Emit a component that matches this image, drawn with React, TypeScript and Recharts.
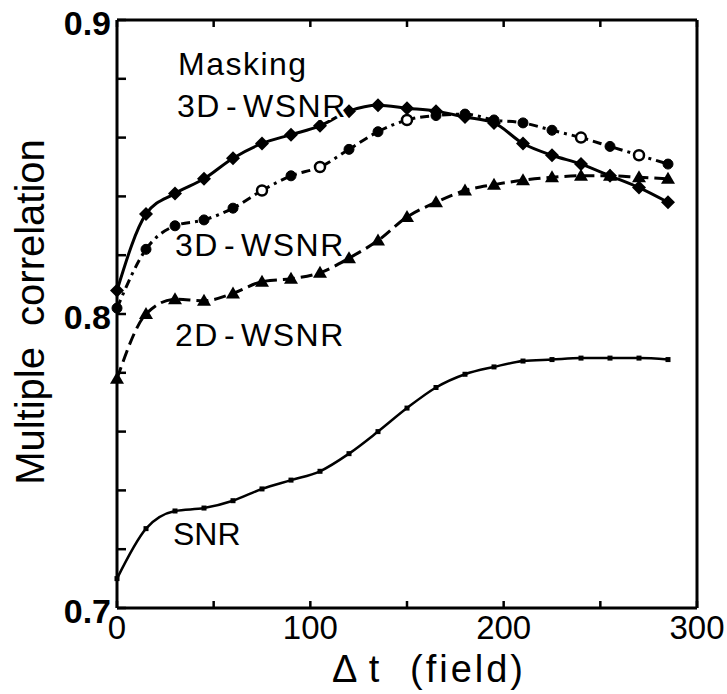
import React from "react";
import { LineChart, Line, XAxis, YAxis } from "recharts";

// x positions (field) and the four curves
const xVals = [0, 15, 30, 45, 60, 75, 90, 105, 120, 135, 150, 165, 180, 195, 210, 225, 240, 255, 270, 285];
const maskingVals = [0.808, 0.834, 0.841, 0.846, 0.853, 0.858, 0.861, 0.864, 0.869, 0.871, 0.870, 0.869, 0.867, 0.865, 0.858, 0.854, 0.851, 0.847, 0.843, 0.838];
const wsnr3dVals = [0.802, 0.822, 0.83, 0.832, 0.836, 0.842, 0.847, 0.85, 0.856, 0.862, 0.866, 0.8675, 0.868, 0.866, 0.865, 0.8625, 0.86, 0.857, 0.854, 0.851];
const wsnr2dVals = [0.778, 0.8, 0.805, 0.8045, 0.807, 0.811, 0.812, 0.814, 0.819, 0.825, 0.833, 0.838, 0.842, 0.844, 0.8455, 0.8465, 0.847, 0.847, 0.8465, 0.846];
const snrVals = [0.71, 0.727, 0.733, 0.734, 0.7365, 0.7405, 0.7435, 0.7465, 0.7525, 0.76, 0.768, 0.775, 0.7795, 0.782, 0.784, 0.7845, 0.785, 0.785, 0.785, 0.7845];
// points of the 3D-WSNR curve drawn as open circles
const open3dX = [75, 105, 150, 240, 270];

const xTicks = [0, 50, 100, 150, 200, 250, 300];
const xLabels = [0, 100, 200, 300];
const yTicks = [0.7, 0.72, 0.74, 0.76, 0.78, 0.8, 0.82, 0.84, 0.86, 0.88, 0.9];
const yLabels = [0.7, 0.8, 0.9];

const data = xVals.map((x, i) => ({
  x,
  masking: maskingVals[i],
  w3d: wsnr3dVals[i],
  w2d: wsnr2dVals[i],
  snr: snrVals[i],
}));

const FONT = "'Liberation Sans', Arial, Helvetica, sans-serif";
const INK = "#000";

const BottomTick = (props: any) => {
  const { x, y, payload } = props;
  return (
    <g>
      <line x1={x} y1={y} x2={x} y2={y - 7} stroke={INK} strokeWidth={2.5} />
      {xLabels.includes(payload.value) && (
        <text x={x} y={y + 31} textAnchor="middle" fontSize={33} fontFamily={FONT} fill={INK}>
          {payload.value}
        </text>
      )}
    </g>
  );
};

const TopTick = (props: any) => {
  const { x, y } = props;
  return <line x1={x} y1={y} x2={x} y2={y + 7} stroke={INK} strokeWidth={2.5} />;
};

const LeftTick = (props: any) => {
  const { x, y, payload } = props;
  return (
    <g>
      <line x1={x} y1={y} x2={x + 9} y2={y} stroke={INK} strokeWidth={2.5} />
      {yLabels.includes(payload.value) && (
        <text x={x - 6} y={y + 15} textAnchor="end" fontSize={34} fontWeight="bold" fontFamily={FONT} fill={INK}>
          {payload.value.toFixed(1)}
        </text>
      )}
    </g>
  );
};

const RightTick = (props: any) => {
  const { x, y } = props;
  return <line x1={x} y1={y} x2={x - 9} y2={y} stroke={INK} strokeWidth={2.5} />;
};

const Diamond = (props: any) => {
  const { cx, cy, index } = props;
  if (cx == null || cy == null) return <g key={`dm-${index}`} />;
  return (
    <path
      key={`dm-${index}`}
      d={`M${cx},${cy - 7}L${cx + 7},${cy}L${cx},${cy + 7}L${cx - 7},${cy}Z`}
      fill={INK}
    />
  );
};

const Circle3d = (props: any) => {
  const { cx, cy, index, payload } = props;
  if (cx == null || cy == null) return <g key={`c3-${index}`} />;
  const open = open3dX.includes(payload.x);
  return (
    <circle
      key={`c3-${index}`}
      cx={cx}
      cy={cy}
      r={5}
      fill={open ? "#fff" : INK}
      stroke={INK}
      strokeWidth={open ? 2.5 : 1}
    />
  );
};

const Triangle = (props: any) => {
  const { cx, cy, index } = props;
  if (cx == null || cy == null) return <g key={`tr-${index}`} />;
  return (
    <path key={`tr-${index}`} d={`M${cx},${cy - 7}L${cx + 7},${cy + 5}L${cx - 7},${cy + 5}Z`} fill={INK} />
  );
};

const SmallDot = (props: any) => {
  const { cx, cy, index } = props;
  if (cx == null || cy == null) return <g key={`sd-${index}`} />;
  return <rect key={`sd-${index}`} x={cx - 2.5} y={cy - 2.5} width={5} height={5} fill={INK} />;
};

const labelStyle = { fontFamily: FONT, fontSize: 32, fill: INK };

const WsnrText = ({ x, y, prefix, halo }: { x: number; y: number; prefix: string; halo?: boolean }) => (
  <text
    x={x}
    y={y}
    {...labelStyle}
    letterSpacing={1.5}
    stroke={halo ? "#fff" : "none"}
    strokeWidth={halo ? 6 : 0}
    paintOrder="stroke"
  >
    <tspan>{prefix}</tspan>
    <tspan dx={5}>-</tspan>
    <tspan dx={5}>WSNR</tspan>
  </text>
);

export default function App() {
  return (
    <div style={{ position: "absolute", left: 0, top: 0, width: 727, height: 694, background: "#fff" }}>
      <LineChart width={727} height={694} data={data} margin={{ top: 0, right: 0, bottom: 0, left: 0 }}>
        <XAxis
          dataKey="x"
          type="number"
          domain={[0, 300]}
          ticks={xTicks}
          interval={0}
          height={86}
          tickSize={0}
          tickMargin={0}
          tick={<BottomTick />}
          axisLine={{ stroke: INK, strokeWidth: 3 }}
        />
        <XAxis
          xAxisId="top"
          orientation="top"
          dataKey="x"
          type="number"
          domain={[0, 300]}
          ticks={xTicks}
          interval={0}
          height={20}
          tickSize={0}
          tickMargin={0}
          tick={<TopTick />}
          axisLine={{ stroke: INK, strokeWidth: 3 }}
        />
        <YAxis
          type="number"
          domain={[0.7, 0.9]}
          ticks={yTicks}
          interval={0}
          width={117}
          tickSize={0}
          tickMargin={0}
          tick={<LeftTick />}
          axisLine={{ stroke: INK, strokeWidth: 3 }}
        />
        <YAxis
          yAxisId="right"
          orientation="right"
          type="number"
          domain={[0.7, 0.9]}
          ticks={yTicks}
          interval={0}
          width={30}
          tickSize={0}
          tickMargin={0}
          tick={<RightTick />}
          axisLine={{ stroke: INK, strokeWidth: 3 }}
        />
        <Line
          type="monotone"
          dataKey="snr"
          stroke={INK}
          strokeWidth={2.5}
          dot={SmallDot}
          activeDot={false}
          isAnimationActive={false}
        />
        <Line
          type="monotone"
          dataKey="w2d"
          stroke={INK}
          strokeWidth={3}
          strokeDasharray="12 6"
          dot={Triangle}
          activeDot={false}
          isAnimationActive={false}
        />
        <Line
          type="monotone"
          dataKey="w3d"
          stroke={INK}
          strokeWidth={3}
          strokeDasharray="9 5 3 5"
          dot={Circle3d}
          activeDot={false}
          isAnimationActive={false}
        />
        <Line
          type="monotone"
          dataKey="masking"
          stroke={INK}
          strokeWidth={3}
          dot={Diamond}
          activeDot={false}
          isAnimationActive={false}
        />
      </LineChart>
      <svg
        width={727}
        height={694}
        style={{ position: "absolute", left: 0, top: 0, pointerEvents: "none" }}
      >
        <text x={178} y={75} {...labelStyle} letterSpacing={1.5}>Masking</text>
        <WsnrText x={177} y={117} prefix="3D" halo />
        <WsnrText x={175} y={256} prefix="3D" />
        <WsnrText x={175} y={346} prefix="2D" />
        <text x={173} y={545} {...labelStyle}>SNR</text>
        <text x={-312} y={44} transform="rotate(-90)" textAnchor="middle" fontFamily={FONT} fontSize={40} fill={INK}>
          <tspan>Multiple</tspan>
          <tspan dx={10}> correlation</tspan>
        </text>
        <text x={332} y={682} fontFamily={FONT} fontSize={38} fill={INK}>
          <tspan>Δ</tspan>
          <tspan dx={3}> t</tspan>
          <tspan dx={17} letterSpacing={3}> (field)</tspan>
        </text>
      </svg>
    </div>
  );
}
